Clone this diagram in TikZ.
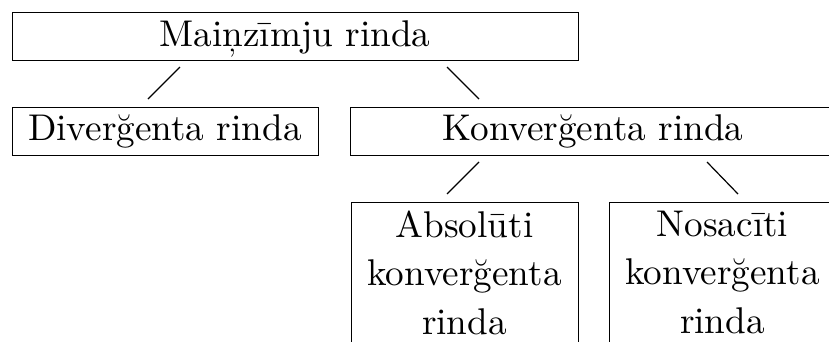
\documentclass[tikz,border=0pt]{standalone}
\begin{document}
\begin{tikzpicture}[x=1pt,y=-1pt,
  box/.style={draw,line width=1.2pt,rectangle,inner sep=0pt,anchor=north west},
  lbl/.style={inner sep=0pt,scale=3.72,font=\fontsize{10}{13}\selectfont},
  conn/.style={line width=1.2pt}]
\useasboundingbox (0,0) rectangle (829,341);
% boxes
\node[box,minimum width=566pt,minimum height=48pt] (top) at (12,12) {};
\node[box,minimum width=306pt,minimum height=48pt] (div) at (12,107) {};
\node[box,minimum width=486pt,minimum height=48pt] (konv) at (350,107) {};
\node[box,minimum width=227pt,minimum height=200pt] (abs) at (351,202) {};
\node[box,minimum width=227pt,minimum height=200pt] (nos) at (609,202) {};
% labels
\node[lbl,anchor=base] (ttop) at (295,46) {Maiņzīmju rinda};
\node[lbl,anchor=base] (tdiv) at (165,140) {Diverğenta rinda};
\node[lbl,anchor=base] (tkonv) at (593,140) {Konverğenta rinda};
\node[lbl,anchor=north,align=center] (tabs) at (464.5,210.2) {Absolūti\\konverğenta\\rinda};
\node[lbl,anchor=north,align=center] (tnos) at (722.5,210.2) {Nosacīti\\konverğenta\\rinda};
% connector ends
\coordinate (c1a) at (180,67); \coordinate (c1b) at (148,99);
\coordinate (c2a) at (447,67); \coordinate (c2b) at (479,99);
\coordinate (c3a) at (479,162); \coordinate (c3b) at (447,194);
\coordinate (c4a) at (707,162); \coordinate (c4b) at (738,194);
\draw[conn] (c1a) -- (c1b);
\draw[conn] (c2a) -- (c2b);
\draw[conn] (c3a) -- (c3b);
\draw[conn] (c4a) -- (c4b);
\end{tikzpicture}
\end{document}
